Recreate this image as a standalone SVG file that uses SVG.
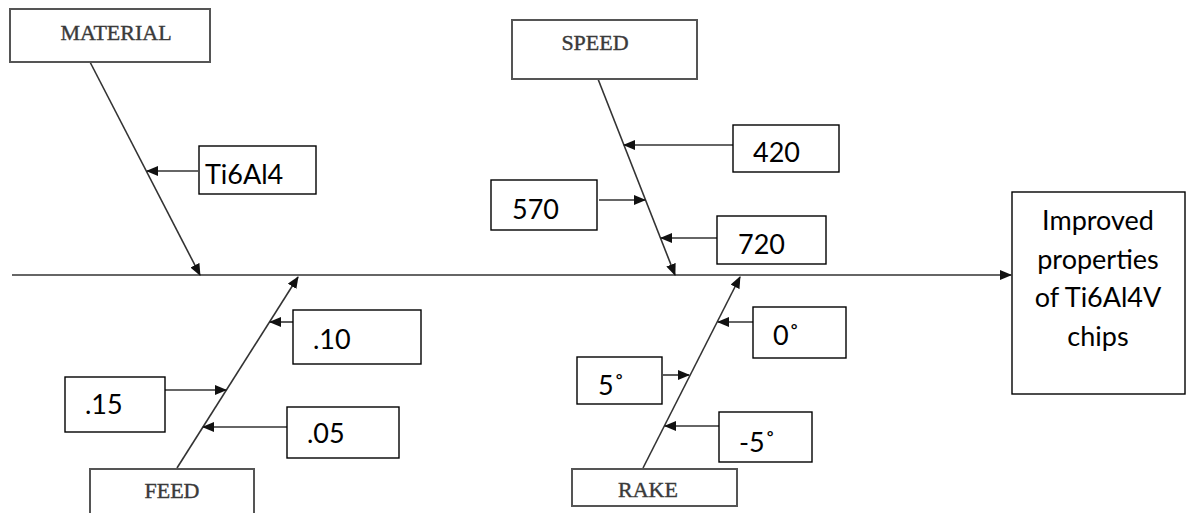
<svg xmlns="http://www.w3.org/2000/svg" width="1186" height="513" viewBox="0 0 1186 513">
<style>
.cat{fill:#fff;stroke:#555;stroke-width:2}
.cat-t{font-family:"Liberation Serif",serif;font-size:22px;fill:#3a3a3a;stroke:#3a3a3a;stroke-width:0.4;text-anchor:middle}
.val{fill:#fff;stroke:#000;stroke-width:1.4}
.val-t{font-family:Lato,"Open Sans",sans-serif;font-size:27px;fill:#000}
.res-t{font-family:Lato,"Open Sans",sans-serif;font-size:27px;fill:#000;text-anchor:middle}
.ln{stroke:#333;stroke-width:1.6;fill:none;marker-end:url(#ah)}
</style>
<defs>
<marker id="ah" markerUnits="userSpaceOnUse" markerWidth="12" markerHeight="10" viewBox="0 0 12 10" refX="11" refY="5" orient="auto">
<path d="M0,0 L12,5 L0,10 Z" fill="#111"/>
</marker>
</defs>
<rect width="1186" height="513" fill="#fff"/>
<g id="connectors">
<path class="ln" d="M12,275 H1011"/>
<path class="ln" d="M90,62 L200,275"/>
<path class="ln" d="M598,79 L675,275"/>
<path class="ln" d="M177,468 L298,277"/>
<path class="ln" d="M643,468 L740,277"/>
<path class="ln" d="M198,171 H147"/>
<path class="ln" d="M733,145 H624"/>
<path class="ln" d="M599,200 H645"/>
<path class="ln" d="M717,238 H661"/>
<path class="ln" d="M293,322 H270"/>
<path class="ln" d="M165,390 H226"/>
<path class="ln" d="M287,427 H203"/>
<path class="ln" d="M753,322 H718"/>
<path class="ln" d="M663,375 H689"/>
<path class="ln" d="M719,426 H665"/>
</g>
<g id="material"><rect class="cat" x="10" y="9" width="200" height="53"/><text class="cat-t" x="116" y="40">MATERIAL</text></g>
<g id="speed"><rect class="cat" x="512" y="20" width="185" height="59"/><text class="cat-t" x="595" y="50">SPEED</text></g>
<g id="feed"><rect class="cat" x="90" y="469" width="164" height="50"/><text class="cat-t" x="172" y="498">FEED</text></g>
<g id="rake"><rect class="cat" x="572" y="469" width="165" height="37"/><text class="cat-t" x="648" y="497">RAKE</text></g>
<g id="v-ti6al4"><rect class="val" x="199" y="146" width="117" height="48"/><text class="val-t" x="205" y="184">Ti6Al4</text></g>
<g id="v-420"><rect class="val" x="733" y="125" width="106" height="47"/><text class="val-t" x="753" y="162">420</text></g>
<g id="v-570"><rect class="val" x="491" y="180" width="106" height="50"/><text class="val-t" x="512" y="219">570</text></g>
<g id="v-720"><rect class="val" x="717" y="216" width="109" height="48"/><text class="val-t" x="738" y="254">720</text></g>
<g id="v-010"><rect class="val" x="293" y="310" width="128" height="54"/><text class="val-t" x="313" y="349">.10</text></g>
<g id="v-015"><rect class="val" x="65" y="377" width="100" height="55"/><text class="val-t" x="85" y="414">.15</text></g>
<g id="v-005"><rect class="val" x="287" y="407" width="112" height="51"/><text class="val-t" x="307" y="443">.05</text></g>
<g id="v-0deg"><rect class="val" x="753" y="307" width="93" height="51"/><text class="val-t" x="773" y="345">0˚</text></g>
<g id="v-5deg"><rect class="val" x="577" y="357" width="85" height="47"/><text class="val-t" x="598" y="395">5˚</text></g>
<g id="v-m5deg"><rect class="val" x="719" y="412" width="93" height="50"/><text class="val-t" x="739" y="452">-5˚</text></g>
<g id="result"><rect class="val" x="1012" y="192" width="173" height="202"/>
<text class="res-t" x="1098" y="230">Improved</text>
<text class="res-t" x="1098" y="269">properties</text>
<text class="res-t" x="1098" y="307">of Ti6Al4V</text>
<text class="res-t" x="1098" y="346">chips</text>
</g>
</svg>
